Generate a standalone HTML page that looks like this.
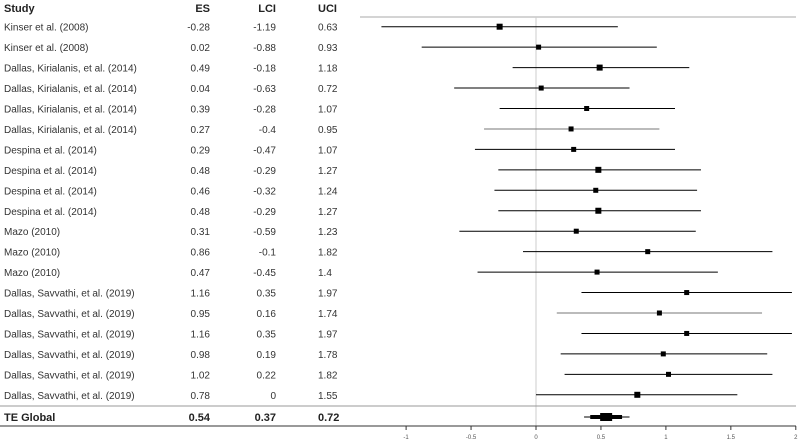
<!DOCTYPE html>
<html><head><meta charset="utf-8"><style>
html,body{margin:0;padding:0;background:#fff;}
svg{display:block;font-family:"Liberation Sans",Arial,sans-serif;}
</style></head><body>
<svg id="c" width="799" height="444" xmlns="http://www.w3.org/2000/svg"></svg>
<script>
const studies=["Kinser et al. (2008)","Kinser et al. (2008)","Dallas, Kirialanis, et al. (2014)","Dallas, Kirialanis, et al. (2014)","Dallas, Kirialanis, et al. (2014)","Dallas, Kirialanis, et al. (2014)","Despina et al. (2014)","Despina et al. (2014)","Despina et al. (2014)","Despina et al. (2014)","Mazo (2010)","Mazo (2010)","Mazo (2010)","Dallas, Savvathi, et al. (2019)","Dallas, Savvathi, et al. (2019)","Dallas, Savvathi, et al. (2019)","Dallas, Savvathi, et al. (2019)","Dallas, Savvathi, et al. (2019)","Dallas, Savvathi, et al. (2019)"];
const es=[-0.28,0.02,0.49,0.04,0.39,0.27,0.29,0.48,0.46,0.48,0.31,0.86,0.47,1.16,0.95,1.16,0.98,1.02,0.78];
const lci=[-1.19,-0.88,-0.18,-0.63,-0.28,-0.4,-0.47,-0.29,-0.32,-0.29,-0.59,-0.1,-0.45,0.35,0.16,0.35,0.19,0.22,0];
const uci=[0.63,0.93,1.18,0.72,1.07,0.95,1.07,1.27,1.24,1.27,1.23,1.82,1.4,1.97,1.74,1.97,1.78,1.82,1.55];
const boxSize=[6,5,6,5,5,5,5,6,5,6,5,5,5,5,5,5,5,5,6];
const lineShade=["#000","#000","#000","#000","#000","#777","#000","#000","#000","#000","#000","#000","#000","#000","#777","#000","#000","#000","#000"];
const globalVals=[0.54,0.37,0.72];
const ticks=[-1,-0.5,0,0.5,1,1.5,2];
const tickLabels=["-1","-0.5","0","0.5","1","1.5","2"];

const svg=document.getElementById('c');
const NS="http://www.w3.org/2000/svg";
const X=v=>536+v*129.9;
const Y=i=>26.7+i*20.45;
function mk(tag,attrs,txt){const e=document.createElementNS(NS,tag);for(const k in attrs)e.setAttribute(k,attrs[k]);if(txt!==undefined)e.textContent=txt;svg.appendChild(e);return e;}
function fmt(v){return String(v);}

let e;
e=mk('text',{x:4,y:12,'font-size':11,'font-weight':'bold',fill:'#222'},'Study');


e=mk('text',{x:210,y:12,'font-size':11,'font-weight':'bold','text-anchor':'end',fill:'#222'},'ES');


e=mk('text',{x:276,y:12,'font-size':11,'font-weight':'bold','text-anchor':'end',fill:'#222'},'LCI');


e=mk('text',{x:318,y:12,'font-size':11,'font-weight':'bold',fill:'#222'},'UCI');



e=mk('line',{x1:360,x2:796,y1:17,y2:17,stroke:'#aaa','stroke-width':1});


e=mk('line',{x1:X(0),x2:X(0),y1:17,y2:426,stroke:'#ccc','stroke-width':1});



studies.forEach((s,i)=>{
  const y=Y(i);
  e=mk('text',{x:4,y:y+4,'font-size':10,fill:'#333'},s);
  
  
  e=mk('text',{x:210,y:y+4,'font-size':10,'text-anchor':'end',fill:'#333'},fmt(es[i]));
  
  
  e=mk('text',{x:276,y:y+4,'font-size':10,'text-anchor':'end',fill:'#333'},fmt(lci[i]));
  
  
  e=mk('text',{x:318,y:y+4,'font-size':10,fill:'#333'},fmt(uci[i]));
  
  
  e=mk('line',{x1:X(lci[i]),x2:X(uci[i]),y1:y,y2:y,stroke:lineShade[i],'stroke-width':1});
  
  
  const b=boxSize[i];
  e=mk('rect',{x:X(es[i])-b/2,y:y-b/2,width:b,height:b,fill:'#000'});
  
  
});

e=mk('line',{x1:0,x2:796,y1:406,y2:406,stroke:'#999','stroke-width':1});


const gy=417;
e=mk('text',{x:4,y:gy+4,'font-size':11,'font-weight':'bold',fill:'#222'},'TE Global');


e=mk('text',{x:210,y:gy+4,'font-size':11,'font-weight':'bold','text-anchor':'end',fill:'#222'},fmt(globalVals[0]));


e=mk('text',{x:276,y:gy+4,'font-size':11,'font-weight':'bold','text-anchor':'end',fill:'#222'},fmt(globalVals[1]));


e=mk('text',{x:318,y:gy+4,'font-size':11,'font-weight':'bold',fill:'#222'},fmt(globalVals[2]));


e=mk('line',{x1:X(globalVals[1]),x2:X(globalVals[2]),y1:gy,y2:gy,stroke:'#000','stroke-width':1});


const inner=(globalVals[2]-globalVals[1])*0.35;
e=mk('rect',{x:X(globalVals[0]-inner),y:gy-2,width:X(globalVals[0]+inner)-X(globalVals[0]-inner),height:4,fill:'#000'});


e=mk('rect',{x:X(globalVals[0])-6,y:gy-4,width:12,height:8,fill:'#000'});



e=mk('line',{x1:0,x2:796,y1:426,y2:426,stroke:'#333','stroke-width':1});


ticks.forEach((t,i)=>{
  e=mk('line',{x1:X(t),x2:X(t),y1:426,y2:430,stroke:'#333','stroke-width':1});
  
  
  e=mk('text',{x:X(t),y:439,'font-size':6,'text-anchor':'middle',fill:'#555'},tickLabels[i]);
  
  
});
</script>
</body></html>
